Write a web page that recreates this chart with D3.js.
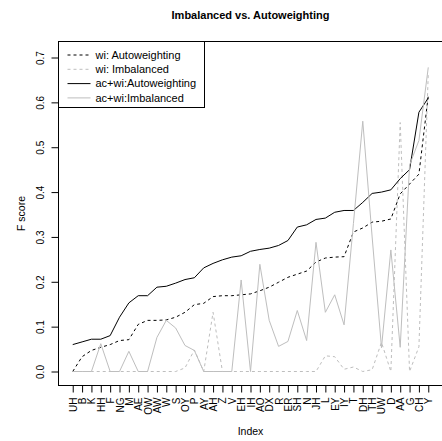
<!DOCTYPE html>
<html>
<head>
<meta charset="utf-8">
<script src="https://cdn.jsdelivr.net/npm/d3@7"></script>
<style>
  body { margin: 0; background: #fff; }
  svg { display: block; font-family: "Liberation Sans", Arial, sans-serif; }
</style>
</head>
<body>
<div id="chart"></div>
<script>
// phone labels along the x axis
const categories = ["UH","B","K","HH","F","NG","M","AE","OW","AW","W","S","OY","P","AY","AH","Z","V",
  "EH","IH","AO","DX","R","ER","SH","N","JH","L","EY","IY","T","DH","TH","UW","D","AA","G","CH","Y"];

const wiAuto = [0.000,0.033,0.047,0.054,0.060,0.069,0.071,0.105,0.114,0.114,0.115,0.121,0.132,0.149,
  0.152,0.167,0.169,0.169,0.171,0.173,0.180,0.188,0.199,0.210,0.217,0.224,0.244,0.253,0.255,0.256,
  0.311,0.320,0.333,0.335,0.340,0.396,0.418,0.440,0.615];
const wiImb = [0,0,0,0,0,0,0,0,0,0,0,0,0.008,0.048,0,0.132,0,0,0,0,0,0,0,0,0,0,0,0.035,0.033,0.005,
  0.010,0.000,0.004,0.065,0.000,0.555,0.000,0.055,0.665];
const acwiAuto = [0.060,0.066,0.072,0.072,0.080,0.121,0.153,0.169,0.169,0.188,0.190,0.197,0.205,0.209,
  0.231,0.241,0.249,0.255,0.258,0.268,0.272,0.275,0.281,0.292,0.322,0.327,0.339,0.342,0.355,0.359,
  0.359,0.377,0.397,0.400,0.405,0.430,0.450,0.578,0.610];
const acwiImb = [0,0,0,0.062,0,0,0.045,0,0,0.076,0.114,0.097,0.058,0.047,0,0,0,0,0.204,0,0.239,0.114,
  0.056,0.067,0.136,0.069,0.288,0.132,0.171,0.104,0.330,0.558,0.300,0.053,0.271,0.054,0.460,0.515,0.678];

const yTicks = [0, 0.1, 0.2, 0.3, 0.4, 0.5, 0.6, 0.7];

const series = [
  { name: "wi: Autoweighting",    values: wiAuto,   color: "#000",    dash: "3,3" },
  { name: "wi: Imbalanced",       values: wiImb,    color: "#bebebe", dash: "3,3" },
  { name: "ac+wi:Autoweighting",  values: acwiAuto, color: "#000",    dash: null },
  { name: "ac+wi:Imbalanced",     values: acwiImb,  color: "#bebebe", dash: null }
];

const width = 442, height = 441;
const box = { left: 58.5, right: 442.5, top: 41.5, bottom: 385.5 };

const svg = d3.select("#chart").append("svg")
  .attr("width", width)
  .attr("height", height);

// R style: data range padded 4% on both sides
const n = categories.length;
const xPad = (n - 1) * 0.04;
const x = d3.scaleLinear().domain([-xPad, n - 1 + xPad]).range([box.left, box.right]);
const y = d3.scaleLinear().domain([-0.0312, 0.7357]).range([box.bottom, box.top]);

const line = d3.line()
  .x((d, i) => x(i))
  .y(d => y(d));

const plot = svg.append("g");
plot.selectAll("path.series")
  .data(series)
  .enter()
  .append("path")
  .attr("class", "series")
  .attr("d", d => line(d.values))
  .attr("fill", "none")
  .attr("stroke", d => d.color)
  .attr("stroke-width", 1)
  .attr("stroke-dasharray", d => d.dash);

// frame
svg.append("rect")
  .attr("x", box.left).attr("y", box.top)
  .attr("width", box.right - box.left).attr("height", box.bottom - box.top)
  .attr("fill", "none").attr("stroke", "#000").attr("stroke-width", 1);

// y axis
const yAxis = svg.append("g")
  .attr("transform", `translate(${box.left},0)`)
  .call(d3.axisLeft(y).tickValues(yTicks).tickSize(7).tickFormat(d3.format(".1f")));
yAxis.select(".domain").remove();
yAxis.selectAll("line").attr("stroke", "#000");
yAxis.selectAll("text")
  .attr("x", 0).attr("y", 0).attr("dy", null)
  .attr("transform", "translate(-15,0) rotate(-90)")
  .attr("text-anchor", "middle")
  .style("font-family", "Liberation Sans, Arial, sans-serif")
  .style("font-size", "10px")
  .attr("fill", "#000");

// x axis
const xAxis = svg.append("g")
  .attr("transform", `translate(0,${box.bottom})`)
  .call(d3.axisBottom(x).tickValues(d3.range(n)).tickSize(7).tickFormat(i => categories[i]));
xAxis.select(".domain").remove();
xAxis.selectAll("line").attr("stroke", "#000");
xAxis.selectAll("text")
  .attr("x", 0).attr("y", 0).attr("dy", null)
  .attr("transform", "translate(3.5,12) rotate(-90)")
  .attr("text-anchor", "end")
  .style("font-family", "Liberation Sans, Arial, sans-serif")
  .style("font-size", "10px")
  .attr("fill", "#000");

// titles
svg.append("text")
  .attr("x", (box.left + box.right) / 2).attr("y", 19)
  .attr("text-anchor", "middle")
  .style("font-size", "11px").style("font-weight", "bold")
  .text("Imbalanced vs. Autoweighting");

svg.append("text")
  .attr("x", (box.left + box.right) / 2).attr("y", 435)
  .attr("text-anchor", "middle")
  .style("font-size", "10.5px")
  .text("Index");

svg.append("text")
  .attr("transform", `translate(25,${(box.top + box.bottom) / 2}) rotate(-90)`)
  .attr("text-anchor", "middle")
  .style("font-size", "10.5px")
  .text("F score");

// legend, top left
const legend = svg.append("g").attr("transform", `translate(${box.left},${box.top})`);
legend.append("rect")
  .attr("width", 146).attr("height", 66)
  .attr("fill", "#fff").attr("stroke", "#000");
const item = legend.selectAll("g.item")
  .data(series)
  .enter()
  .append("g")
  .attr("class", "item")
  .attr("transform", (d, i) => `translate(0,${13.5 + i * 14.3})`);
item.append("line")
  .attr("x1", 9).attr("x2", 32)
  .attr("stroke", d => d.color)
  .attr("stroke-dasharray", d => d.dash);
item.append("text")
  .attr("x", 37).attr("dy", "0.35em")
  .style("font-size", "11px")
  .text(d => d.name);
</script>
</body>
</html>
